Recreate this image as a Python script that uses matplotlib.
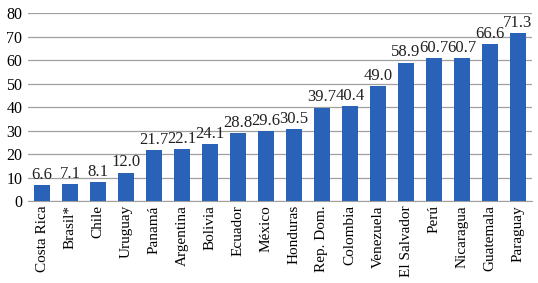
import matplotlib.pyplot as plt

countries = ["Costa Rica", "Brasil*", "Chile", "Uruguay", "Panamá", "Argentina", "Bolivia",
             "Ecuador", "México", "Honduras", "Rep. Dom.", "Colombia", "Venezuela",
             "El Salvador", "Perú", "Nicaragua", "Guatemala", "Paraguay"]
values = [6.6, 7.1, 8.1, 12.0, 21.7, 22.1, 24.1, 28.8, 29.6, 30.5, 39.7, 40.4, 49.0,
          58.9, 60.7, 60.7, 66.6, 71.3]
yticks = [0, 10, 20, 30, 40, 50, 60, 70, 80]

plt.rcParams['font.family'] = ['Liberation Serif', 'DejaVu Serif']

fig = plt.figure(figsize=(5.38, 2.83), dpi=100)
ax = fig.add_axes([28/538, (283-201)/283, (532-28)/538, (201-13)/283])

x = range(len(countries))
ax.bar(x, values, width=0.58, color='#2A62B8', zorder=3)
for xi, v in zip(x, values):
    ax.text(xi, v + 1.0, f"{v:.1f}", ha='center', va='bottom', fontsize=12, color='#222222')

ax.set_ylim(0, 80)
ax.set_xlim(-0.5, len(countries) - 0.5)
ax.set_yticks(yticks)
ax.set_yticklabels([str(t) for t in yticks], fontsize=11.5)
ax.set_xticks(list(x))
ax.set_xticklabels(countries, rotation=90, fontsize=11)
ax.yaxis.grid(True, color='#A0A0A0', linewidth=0.9, zorder=0)
for s in ['top', 'right', 'left']:
    ax.spines[s].set_visible(False)
ax.spines['bottom'].set_color('#A0A0A0')
ax.tick_params(axis='both', length=0, pad=3)
ax.tick_params(axis='y', pad=4)

fig.savefig('out.png', dpi=100)
